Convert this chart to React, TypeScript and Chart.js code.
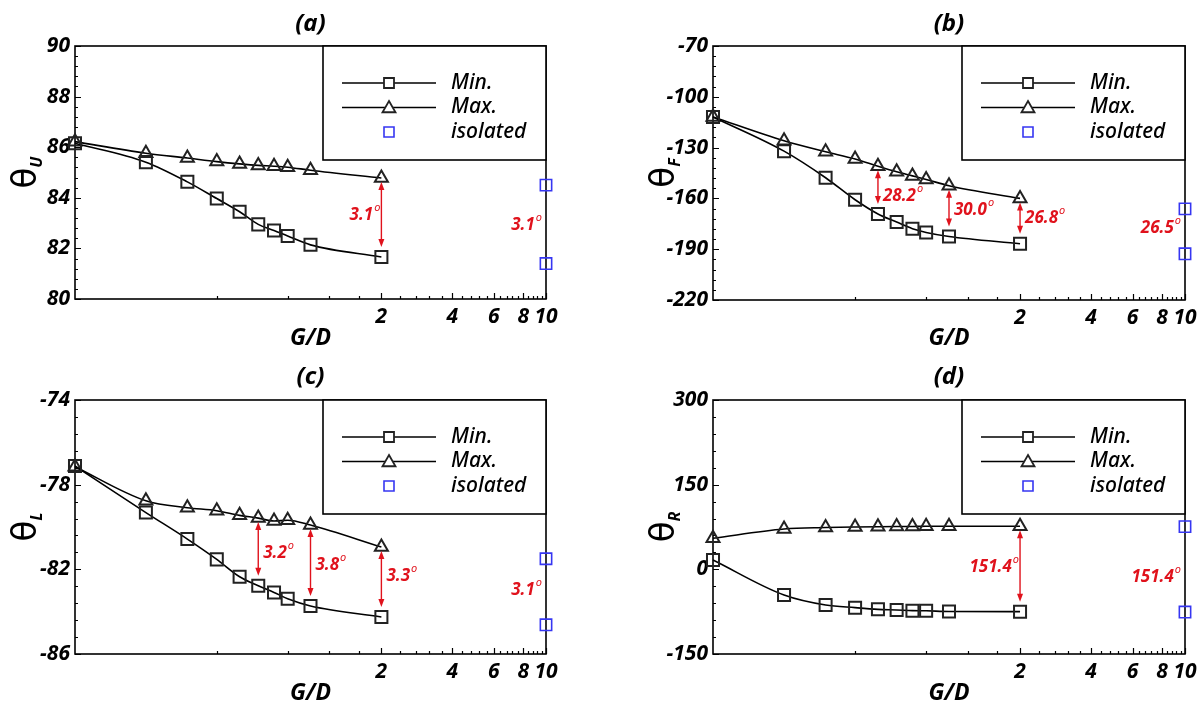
import React, { useEffect, useRef } from "react";
import { Chart, registerables } from "chart.js";

Chart.register(...registerables);

// ---------- data ----------
const gapRatio = [0.1, 0.2, 0.3, 0.4, 0.5, 0.6, 0.7, 0.8, 1.0, 2.0];
const isolatedX = [10, 10];
const xTickValues = [2, 4, 6, 8, 10];

const uMin = [86.16, 85.41, 84.63, 83.97, 83.45, 82.95, 82.71, 82.49, 82.14, 81.66];
const uMax = [86.22, 85.76, 85.57, 85.43, 85.34, 85.28, 85.25, 85.21, 85.09, 84.78];
const uIso = [84.5, 81.4];

const fMin = [-111.9, -132.1, -147.8, -160.8, -169.2, -174.0, -177.9, -180.1, -182.5, -186.8];
const fMax = [-111.9, -126.0, -132.5, -136.7, -141.0, -144.3, -146.7, -148.8, -152.5, -160.0];
const fIso = [-166.2, -192.7];

const lMin = [-77.12, -79.32, -80.57, -81.53, -82.35, -82.78, -83.09, -83.39, -83.73, -84.25];
const lMax = [-77.15, -78.76, -79.09, -79.23, -79.45, -79.58, -79.72, -79.68, -79.91, -80.95];
const lIso = [-81.5, -84.62];

const rMin = [16.5, -45.5, -63.2, -67.9, -70.9, -72.0, -73.2, -73.5, -74.8, -75.0];
const rMax = [55.0, 71.5, 74.0, 75.0, 75.5, 75.8, 76.0, 76.2, 76.3, 76.4];
const rIso = [75.7, -75.7];

// arrows (x positions where max-min gap is marked) and labels
const uArrows = [2];
const fArrows = [0.5, 1.0, 2];
const lArrows = [0.6, 1.0, 2];
const rArrows = [2];

const uLabels = [
  { x: 2, y: 83.32, text: "3.1", align: "right" },
  { x: 10, y: 82.93, text: "3.1", align: "right" },
];
const fLabels = [
  { x: 0.5, y: -158.6, text: "28.2", align: "left" },
  { x: 1.0, y: -166.9, text: "30.0", align: "left" },
  { x: 2, y: -171.6, text: "26.8", align: "left" },
  { x: 10, y: -177.5, text: "26.5", align: "right" },
];
const lLabels = [
  { x: 0.6, y: -81.23, text: "3.2", align: "left" },
  { x: 1.0, y: -81.79, text: "3.8", align: "left" },
  { x: 2, y: -82.31, text: "3.3", align: "left" },
  { x: 10, y: -82.97, text: "3.1", align: "right" },
];
const rLabels = [
  { x: 2, y: 4.1, text: "151.4", align: "right" },
  { x: 10, y: -13.6, text: "151.4", align: "right" },
];

const legendNames = ["Min.", "Max.", "isolated"];

// ---------- styles / layout ----------
const FONT = '"Noto Sans", "DejaVu Sans", sans-serif';
const RED = "#e0121c";
const BLUE = "#3636f2";

const panels = [
  { title: "(a)", sub: "U", min: uMin, max: uMax, iso: uIso, arrows: uArrows, labels: uLabels,
    yMin: 80, yMax: 90, step: 2,
    pos: { left: 0, top: 0, W: 601, H: 353 }, area: { left: 75, right: 546, top: 46, bottom: 299 }, titlePad: 1 },
  { title: "(b)", sub: "F", min: fMin, max: fMax, iso: fIso, arrows: fArrows, labels: fLabels,
    yMin: -220, yMax: -70, step: 30,
    pos: { left: 601, top: 0, W: 601, H: 353 }, area: { left: 112, right: 584, top: 46, bottom: 300 }, titlePad: 1 },
  { title: "(c)", sub: "L", min: lMin, max: lMax, iso: lIso, arrows: lArrows, labels: lLabels,
    yMin: -86, yMax: -74, step: 4,
    pos: { left: 0, top: 353, W: 601, H: 354 }, area: { left: 75, right: 546, top: 47, bottom: 301 }, titlePad: 0 },
  { title: "(d)", sub: "R", min: rMin, max: rMax, iso: rIso, arrows: rArrows, labels: rLabels,
    yMin: -150, yMax: 300, step: 150,
    pos: { left: 601, top: 353, W: 601, H: 354 }, area: { left: 112, right: 584, top: 47, bottom: 301 }, titlePad: 0 },
];

function drawSquare(ctx, x, y, s) {
  ctx.beginPath();
  ctx.rect(x - s / 2, y - s / 2, s, s);
}
function drawTri(ctx, x, y, r) {
  ctx.beginPath();
  ctx.moveTo(x, y - r);
  ctx.lineTo(x + 0.866 * r, y + 0.5 * r);
  ctx.lineTo(x - 0.866 * r, y + 0.5 * r);
  ctx.closePath();
}

function drawDeg(ctx, text, x, y, align) {
  ctx.font = `italic bold 17px ${FONT}`;
  const w1 = ctx.measureText(text).width;
  ctx.font = `italic 11px ${FONT}`;
  const w2 = ctx.measureText("o").width;
  const total = w1 + 1 + w2;
  const sx = align === "right" ? x - total : x;
  ctx.fillStyle = RED;
  ctx.textAlign = "left";
  ctx.textBaseline = "middle";
  ctx.font = `italic bold 17px ${FONT}`;
  ctx.fillText(text, sx, y);
  ctx.font = `italic 11px ${FONT}`;
  ctx.fillText("o", sx + w1 + 1, y - 7);
}

function makeDeco(p) {
  return {
    id: "deco",
    beforeDatasetsDraw(chart) {
      const { ctx, chartArea: a, scales } = chart;
      const xs = scales.x;
      const ys = scales.y;
      ctx.save();
      ctx.strokeStyle = "#000";
      ctx.lineWidth = 1.6;
      ctx.strokeRect(a.left, a.top, a.right - a.left, a.bottom - a.top);
      ctx.lineWidth = 1.2;
      ctx.beginPath();
      for (let k = 1; k <= 25; k++) {
        const v = (k * 4) / 10;
        if (v < 0.1 || v > 10.0001) continue;
        const px = Math.round(xs.getPixelForValue(v)) + 0.5;
        const len = k % 5 === 0 ? 6 : 3;
        ctx.moveTo(px, a.bottom);
        ctx.lineTo(px, a.bottom - len);
      }
      const minor = p.step / 5;
      for (let k = 0; k <= 200; k++) {
        const v = p.yMin + k * minor;
        if (v > p.yMax + 1e-9) break;
        const py = Math.round(ys.getPixelForValue(v)) + 0.5;
        const len = k % 5 === 0 ? 6 : 3;
        ctx.moveTo(a.left, py);
        ctx.lineTo(a.left + len, py);
      }
      ctx.stroke();
      ctx.restore();
    },
    afterDatasetsDraw(chart) {
      const { ctx, chartArea: a, scales } = chart;
      const xs = scales.x;
      const ys = scales.y;
      ctx.save();
      // arrows
      ctx.strokeStyle = RED;
      ctx.fillStyle = RED;
      ctx.lineWidth = 1.4;
      p.arrows.forEach((xv) => {
        const i = gapRatio.indexOf(xv);
        const px = xs.getPixelForValue(xv);
        const y1 = ys.getPixelForValue(p.max[i]) + 4;
        const y2 = ys.getPixelForValue(p.min[i]) - 10;
        ctx.beginPath();
        ctx.moveTo(px, y1 + 6);
        ctx.lineTo(px, y2 - 6);
        ctx.stroke();
        ctx.beginPath();
        ctx.moveTo(px, y1);
        ctx.lineTo(px - 3, y1 + 8);
        ctx.lineTo(px + 3, y1 + 8);
        ctx.closePath();
        ctx.fill();
        ctx.beginPath();
        ctx.moveTo(px, y2);
        ctx.lineTo(px - 3, y2 - 8);
        ctx.lineTo(px + 3, y2 - 8);
        ctx.closePath();
        ctx.fill();
      });
      // labels
      p.labels.forEach((l) => {
        const px = xs.getPixelForValue(l.x);
        const py = ys.getPixelForValue(l.y);
        let x = px;
        if (l.x === 10) x = px - 4;
        else if (l.align === "left") x = px + 5;
        else x = px - 1;
        drawDeg(ctx, l.text, x, py, l.align);
      });
      // legend
      const lw = 223, lh = 114;
      const lx = a.right - lw, ly = a.top;
      ctx.fillStyle = "#fff";
      ctx.fillRect(lx, ly, lw, lh);
      ctx.strokeStyle = "#000";
      ctx.lineWidth = 1.6;
      ctx.strokeRect(lx, ly, lw, lh);
      const rows = [37, 61.5, 86];
      rows.forEach((ry, k) => {
        const y = ly + ry;
        if (k < 2) {
          ctx.strokeStyle = "#000";
          ctx.lineWidth = 1.6;
          ctx.beginPath();
          ctx.moveTo(lx + 19, y);
          ctx.lineTo(lx + 113, y);
          ctx.stroke();
        }
        ctx.lineWidth = k < 2 ? 1.8 : 1.6;
        ctx.strokeStyle = k < 2 ? "#222" : BLUE;
        ctx.fillStyle = "#fff";
        if (k === 1) drawTri(ctx, lx + 66, y + 1, 7.5);
        else drawSquare(ctx, lx + 66, y, 10);
        ctx.fill();
        ctx.stroke();
        ctx.fillStyle = "#000";
        ctx.font = `italic 500 21px ${FONT}`;
        ctx.textAlign = "left";
        ctx.textBaseline = "middle";
        ctx.fillText(legendNames[k], lx + 128, y);
      });
      // panel title
      ctx.fillStyle = "#000";
      ctx.font = `italic bold 24px ${FONT}`;
      ctx.textAlign = "center";
      ctx.textBaseline = "middle";
      ctx.fillText(p.title, (a.left + a.right) / 2, 24);
      // y title (rotated)
      ctx.save();
      ctx.translate(a.left - 48, (a.top + a.bottom) / 2);
      ctx.rotate(-Math.PI / 2);
      ctx.font = `34px "DejaVu Sans", sans-serif`;
      const wt = ctx.measureText("θ").width;
      ctx.font = `italic bold 16px ${FONT}`;
      const ws = ctx.measureText(p.sub).width;
      const sx = -(wt + ws) / 2;
      ctx.textAlign = "left";
      ctx.textBaseline = "middle";
      ctx.font = `34px "DejaVu Sans", sans-serif`;
      ctx.fillText("θ", sx, 0);
      ctx.font = `italic bold 16px ${FONT}`;
      ctx.fillText(p.sub, sx + wt, 10);
      ctx.restore();
      ctx.restore();
    },
  };
}

function Panel({ p }) {
  const ref = useRef(null);
  useEffect(() => {
    const { W, H } = p.pos;
    const a = p.area;
    const tickFont = { family: FONT, size: 21, style: "italic", weight: "bold" };
    const chart = new Chart(ref.current, {
      type: "line",
      data: {
        datasets: [
          {
            label: "Min.",
            data: gapRatio.map((x, i) => ({ x, y: p.min[i] })),
            borderColor: "#000",
            borderWidth: 1.6,
            pointStyle: "rect",
            pointRadius: 8.5,
            pointBorderColor: "#222",
            pointBorderWidth: 2,
            pointBackgroundColor: "rgba(0,0,0,0)",
            cubicInterpolationMode: "monotone",
            clip: false,
          },
          {
            label: "Max.",
            data: gapRatio.map((x, i) => ({ x, y: p.max[i] })),
            borderColor: "#000",
            borderWidth: 1.6,
            pointStyle: "triangle",
            pointRadius: 7.5,
            pointBorderColor: "#222",
            pointBorderWidth: 2,
            pointBackgroundColor: "rgba(0,0,0,0)",
            cubicInterpolationMode: "monotone",
            clip: false,
          },
          {
            label: "isolated",
            data: isolatedX.map((x, i) => ({ x, y: p.iso[i] })),
            showLine: false,
            pointStyle: "rect",
            pointRadius: 8,
            pointBorderColor: BLUE,
            pointBorderWidth: 1.6,
            pointBackgroundColor: "rgba(0,0,0,0)",
            clip: false,
          },
        ],
      },
      options: {
        responsive: false,
        animation: false,
        events: [],
        layout: { padding: { left: 0, right: W - a.right, top: a.top, bottom: 0 } },
        plugins: { legend: { display: false }, tooltip: { enabled: false }, title: { display: false } },
        scales: {
          x: {
            type: "logarithmic",
            min: 0.1,
            max: 10,
            afterBuildTicks: (s) => {
              s.ticks = xTickValues.map((v) => ({ value: v }));
            },
            afterFit: (s) => {
              s.height = H - a.bottom;
            },
            ticks: {
              callback: (v) => String(v),
              font: tickFont,
              color: "#000",
              padding: 5,
              autoSkip: false,
              maxRotation: 0,
            },
            grid: { display: false, drawTicks: false },
            border: { display: false },
            title: {
              display: true,
              text: "G/D",
              color: "#000",
              font: { family: FONT, size: 23, style: "italic", weight: "bold" },
              padding: { top: 0, bottom: p.titlePad },
            },
          },
          y: {
            type: "linear",
            min: p.yMin,
            max: p.yMax,
            afterFit: (s) => {
              s.width = a.left;
            },
            ticks: { stepSize: p.step, font: tickFont, color: "#000", padding: 5 },
            grid: { display: false, drawTicks: false },
            border: { display: false },
          },
        },
      },
      plugins: [makeDeco(p)],
    });
    return () => chart.destroy();
  }, [p]);
  const { left, top, W, H } = p.pos;
  return (
    <canvas
      ref={ref}
      width={W}
      height={H}
      style={{ position: "absolute", left, top, width: W, height: H }}
    />
  );
}

export default function App() {
  return (
    <div style={{ position: "absolute", left: 0, top: 0, width: 1202, height: 707, background: "#fff", overflow: "hidden" }}>
      {panels.map((p, i) => (
        <Panel key={i} p={p} />
      ))}
    </div>
  );
}
